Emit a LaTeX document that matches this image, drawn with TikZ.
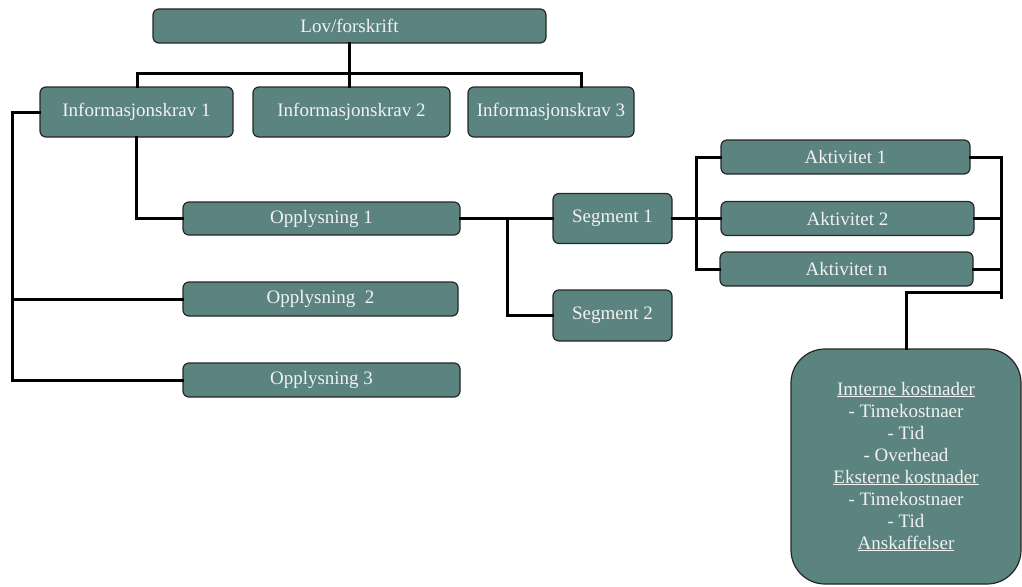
\documentclass[tikz,border=0pt]{standalone}
\usepackage{fontspec}
\setmainfont{Liberation Serif}
\usepackage{xcolor}
\usetikzlibrary{positioning,calc}
\definecolor{boxteal}{RGB}{91,131,127}
\definecolor{boxtext}{RGB}{242,242,242}

\begin{document}
\begin{tikzpicture}[x=1pt, y=-1pt, thick]
        \tikzset{
            box/.style={draw=black!85, fill=boxteal, rectangle, rounded corners=6pt, line width=1.2pt, align=center, text=boxtext, font=\fontsize{19}{22}\selectfont, inner sep=0pt},
            costbox/.style={box, rounded corners=34pt},
            link/.style={draw, line width=3pt, line cap=rect}
        }

        % Lov og informasjonskrav
        \node [box, minimum width=393pt, minimum height=34pt] (lov) at (349.5, 26) {Lov/forskrift};
        \node [box, minimum width=193pt, minimum height=50pt] (krav1) at (136.5, 112) {Informasjonskrav 1};
        \node [box, minimum width=197pt, minimum height=50pt] (krav2) at (351.5, 112) {Informasjonskrav 2};
        \node [box, minimum width=166pt, minimum height=50pt] (krav3) at (551, 112) {Informasjonskrav 3};

        % Opplysninger
        \node [box, minimum width=277pt, minimum height=33pt] (opp1) at (321.5, 218.5) {Opplysning 1};
        \node [box, minimum width=275pt, minimum height=34pt] (opp2) at (320.5, 299) {Opplysning~~2};
        \node [box, minimum width=277pt, minimum height=34pt] (opp3) at (321.5, 380) {Opplysning 3};

        % Segmenter
        \node [box, minimum width=119pt, minimum height=50pt] (seg1) at (612.5, 218.5) {Segment 1};
        \node [box, minimum width=119pt, minimum height=51pt] (seg2) at (612.5, 315.5) {Segment 2};

        % Aktiviteter
        \node [box, minimum width=249pt, minimum height=34pt] (akt1) at (845.5, 157) {Aktivitet 1};
        \node [box, minimum width=253pt, minimum height=34pt] (akt2) at (847.5, 218.5) {Aktivitet 2};
        \node [box, minimum width=253pt, minimum height=34pt] (aktn) at (846.5, 269) {Aktivitet n};

        % Kostnader
        \node [costbox, minimum width=230pt, minimum height=235pt] (kost) at (906, 466.5) {\underline{Imterne kostnader}\\- Timekostnaer\\- Tid\\- Overhead\\\underline{Eksterne kostnader}\\- Timekostnaer\\- Tid\\\underline{Anskaffelser}};

        % Hjelpepunkter
        \coordinate (busL) at (137, 73);
        \coordinate (busR) at (581, 73);
        \coordinate (lft) at (12, 114);
        \coordinate (sj) at (507, 218.5);
        \coordinate (ab) at (696, 218.5);
        \coordinate (rb) at (1001, 292);

        % Forbindelser
        \draw [link] (lov.south) -- (lov.south |- krav2.north);
        \draw [link] (busL |- krav1.north) -- (busL) -- (busR) -- (busR |- krav3.north);
        \draw [link] (krav1.west) -| (lft |- opp3.west) -- (opp3.west);
        \draw [link] (lft |- opp2.west) -- (opp2.west);
        \draw [link] (krav1.south) |- (opp1.west);
        \draw [link] (opp1.east) -- (seg1.west);
        \draw [link] (sj) |- (seg2.west);
        \draw [link] (seg1.east) -- (akt2.west);
        \draw [link] (akt1.west) -| (ab |- aktn.west) -- (aktn.west);
        \draw [link] (akt1.east) -| ($(rb) + (0,5)$);
        \draw [link] (akt2.east) -- (rb |- akt2.east);
        \draw [link] (aktn.east) -- (rb |- aktn.east);
        \draw [link] (rb) -| (kost.north);

        \useasboundingbox (0, 0) rectangle (1022, 586);
\end{tikzpicture}
\end{document}
